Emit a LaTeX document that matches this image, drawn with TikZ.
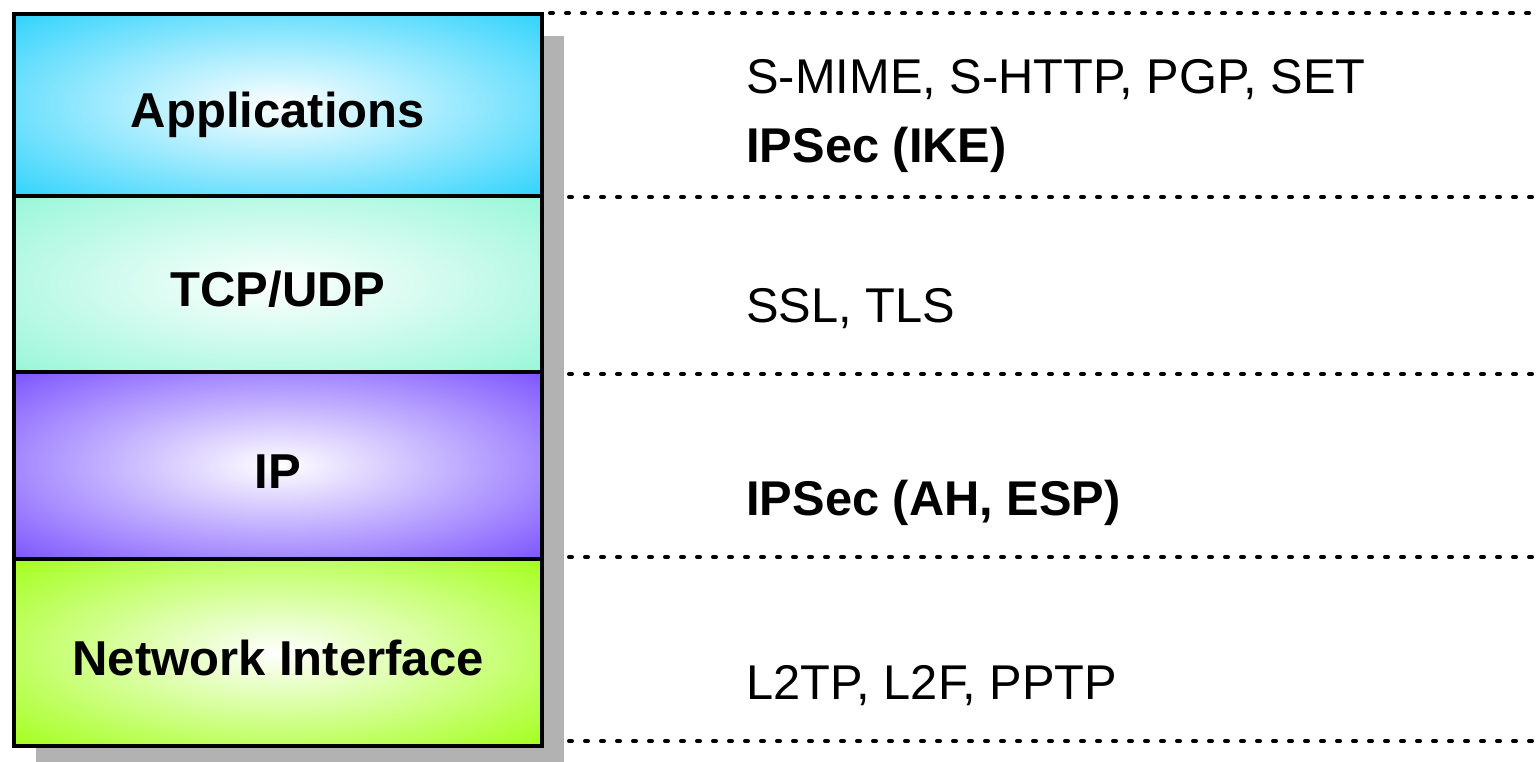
\documentclass[tikz,border=0pt]{standalone}
\usepackage{fontspec}
\setmainfont{Liberation Sans}
\usetikzlibrary{shadows}
\definecolor{appblue}{RGB}{45,210,252}
\definecolor{tcpmint}{RGB}{150,246,216}
\definecolor{ippurple}{RGB}{122,82,255}
\definecolor{nigreen}{RGB}{162,255,24}
\pgfdeclareradialshading{appglow}{\pgfpoint{0bp}{0bp}}{color(0bp)=(white); color(36bp)=(appblue); color(50bp)=(appblue)}
\pgfdeclareradialshading{tcpglow}{\pgfpoint{0bp}{0bp}}{color(0bp)=(white); color(36bp)=(tcpmint); color(50bp)=(tcpmint)}
\pgfdeclareradialshading{ipglow}{\pgfpoint{0bp}{0bp}}{color(0bp)=(white); color(36bp)=(ippurple); color(50bp)=(ippurple)}
\pgfdeclareradialshading{niglow}{\pgfpoint{0bp}{0bp}}{color(0bp)=(white); color(36bp)=(nigreen); color(50bp)=(nigreen)}
\tikzset{
layer/.style={
  draw, line width=2pt, rectangle, inner sep=0pt,
  minimum width=264pt,
  font=\fontsize{24.5}{28}\selectfont\bfseries,
  text height=22.5pt, text depth=0pt,
  drop shadow={shadow xshift=11pt, shadow yshift=-11pt, fill=black!30, opacity=1}},
proto/.style={anchor=base west, inner sep=0pt, font=\fontsize{24.4}{28}\selectfont},
sep/.style={line width=2pt, line cap=round, dash pattern=on 1.5pt off 6.5pt}}

\begin{document}
\begin{tikzpicture}[x=0.5pt, y=-0.5pt]
\useasboundingbox (0,0) rectangle (1536,761);

% the four layers, top to bottom
\node[layer, minimum height=91pt, shading=appglow] (app) at (278,105) {Applications};
\node[layer, minimum height=88pt, shading=tcpglow] (tcp) at (278,284) {TCP/UDP};
\node[layer, minimum height=93.5pt, shading=ipglow] (ip) at (278,465.5) {IP};
\node[layer, minimum height=93.5pt, shading=niglow] (ni) at (278,652.5) {Network Interface};

% separators
\coordinate (s0) at (550,13);  \coordinate (e0) at (1536,13);
\coordinate (s1) at (569,197); \coordinate (e1) at (1536,197);
\coordinate (s2) at (569,374); \coordinate (e2) at (1536,374);
\coordinate (s3) at (569,557); \coordinate (e3) at (1536,557);
\coordinate (s4) at (569,741); \coordinate (e4) at (1536,741);
\draw[sep] (s0) -- (e0);
\draw[sep] (s1) -- (e1);
\draw[sep] (s2) -- (e2);
\draw[sep] (s3) -- (e3);
\draw[sep] (s4) -- (e4);

% security protocols per layer
\node[proto] (smime) at (746,93) {S-MIME, S-HTTP, PGP, SET};
\node[proto, font=\fontsize{24.4}{28}\selectfont\bfseries] (ike) at (746,162) {IPSec (IKE)};
\node[proto] (ssl) at (746,322) {SSL, TLS};
\node[proto, font=\fontsize{24.4}{28}\selectfont\bfseries] (esp) at (746,515) {IPSec (AH, ESP)};
\node[proto] (l2tp) at (746,699) {L2TP, L2F, PPTP};

\end{tikzpicture}
\end{document}
